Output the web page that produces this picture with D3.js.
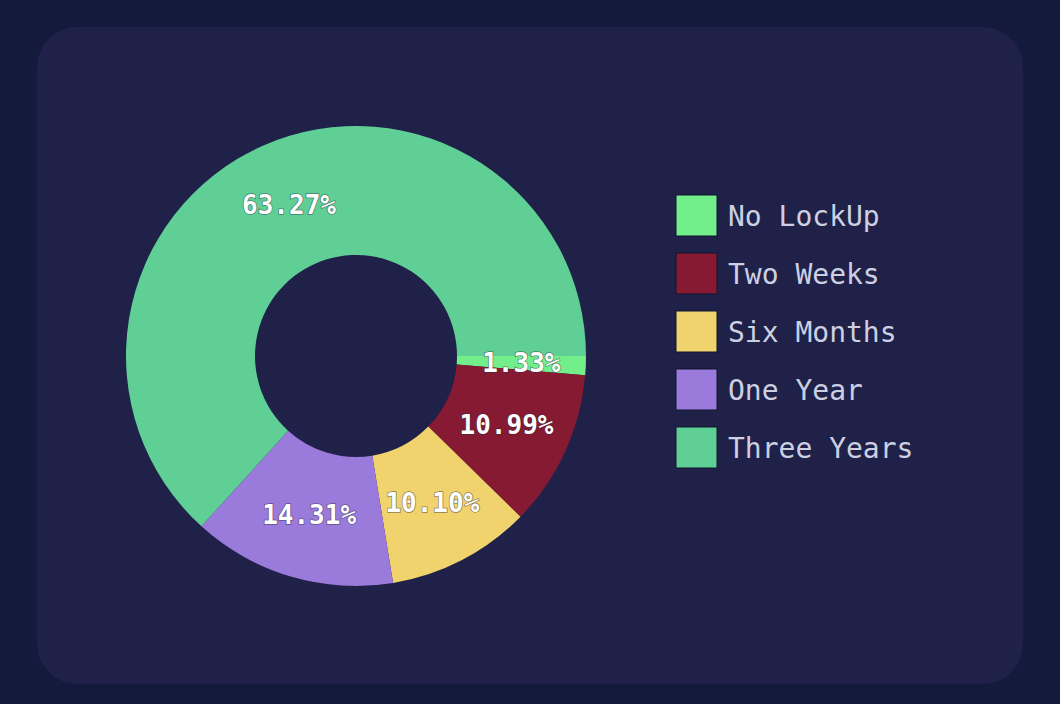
<!DOCTYPE html>
<html><head><meta charset="utf-8">
<script src="https://cdn.jsdelivr.net/npm/d3@7"></script>
<style>html,body{margin:0;padding:0;background:#141a3b;}</style>
</head><body>
<svg id="c" width="1060" height="704"></svg>
<script>
const categories = ["No LockUp","Two Weeks","Six Months","One Year","Three Years"];
const values = [1.33,10.99,10.10,14.31,63.27];
const labels = ["1.33%","10.99%","10.10%","14.31%","63.27%"];
const colors = ["#72ee8a","#861a32","#f0d36c","#9a7ada","#5fcf96"];

const svg = d3.select("#c");
svg.append("rect").attr("width",1060).attr("height",704).attr("fill","#141a3b");
svg.append("rect").attr("x",37).attr("y",27).attr("width",986).attr("height",657).attr("rx",40).attr("fill","#1f2148");

const cx=356, cy=356, rOut=230, rIn=101;
const pie = d3.pie().sort(null).value(d=>d).startAngle(Math.PI/2).endAngle(Math.PI/2+2*Math.PI);
const arc = d3.arc().innerRadius(rIn).outerRadius(rOut);
const arcs = pie(values);
const g = svg.append("g").attr("transform",`translate(${cx},${cy})`);
g.selectAll("path").data(arcs).enter().append("path").attr("d",arc).attr("fill",(d,i)=>colors[i]);
g.selectAll("text").data(arcs).enter().append("text")
  .attr("transform",d=>`translate(${arc.centroid(d)})`)
  .attr("text-anchor","middle").attr("dy","0.35em")
  .attr("font-family","DejaVu Sans Mono").attr("font-weight","bold").attr("font-size",26)
  .attr("fill","#ffffff").attr("stroke","rgba(40,40,60,0.5)").attr("stroke-width",1.5).attr("paint-order","stroke")
  .text((d,i)=>labels[i]);

const leg = svg.append("g");
const ly = d3.scaleBand().domain(categories).range([195,485]).paddingInner(0);
const items = leg.selectAll("g").data(categories).enter().append("g")
  .attr("transform",d=>`translate(676,${ly(d)})`);
items.append("rect").attr("width",41).attr("height",41).attr("fill",(d,i)=>colors[i])
  .attr("stroke","#10142e").attr("stroke-width",1);
items.append("text").attr("x",52).attr("y",21).attr("dy","0.35em")
  .attr("font-family","DejaVu Sans Mono").attr("font-size",28).attr("fill","#cdd0e3")
  .text(d=>d);
</script>
</body></html>
